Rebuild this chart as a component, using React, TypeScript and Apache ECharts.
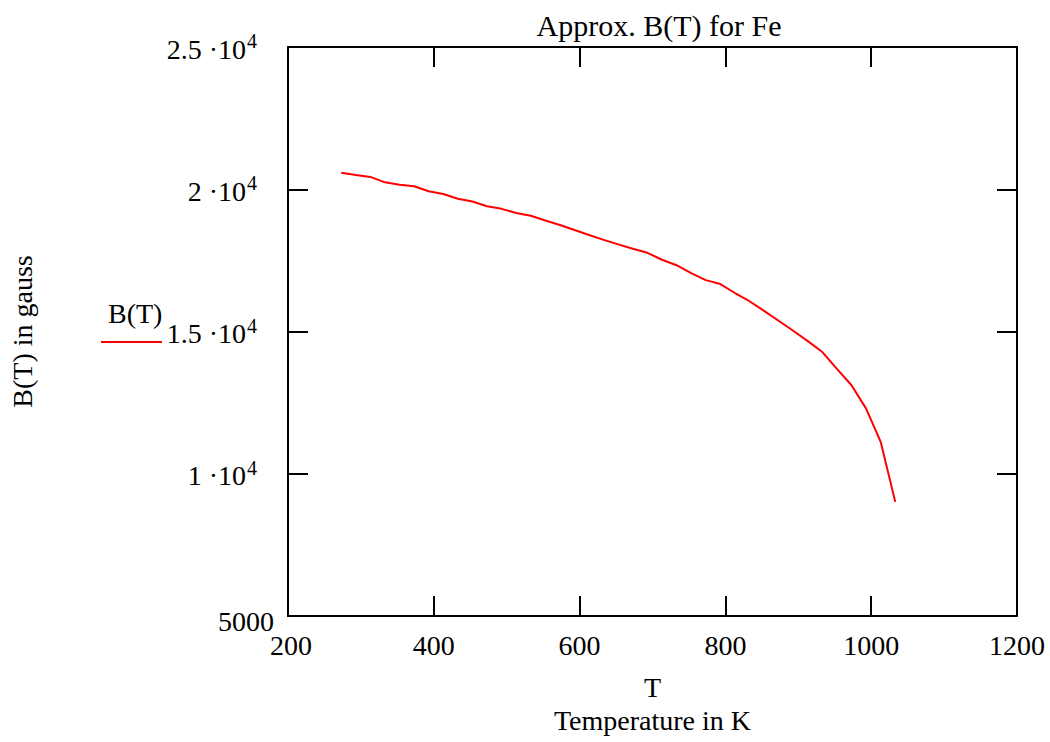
import React, { useEffect, useRef } from "react";
import * as echarts from "echarts";

const temperatures = [
  273, 293, 313, 333, 353, 373, 393, 413, 433, 453, 473, 493, 513, 533, 553, 573, 593, 613, 633, 653,
  673, 693, 713, 733, 753, 773, 793, 813, 833, 853, 873, 893, 913, 933, 953, 973, 993, 1013, 1033,
];
const bValues = [
  20581, 20504, 20434, 20243, 20162, 20103, 19929, 19831, 19667, 19569, 19405, 19311, 19168, 19067,
  18900, 18743, 18569, 18394, 18220, 18063, 17906, 17766, 17522, 17330, 17051, 16807, 16667, 16353,
  16064, 15726, 15377, 15028, 14662, 14278, 13685, 13110, 12290, 11121, 9011,
];
const xTicks = [200, 400, 600, 800, 1000, 1200];
const yTickLabels: Record<number, [string, string]> = {
  5000: ["5000", ""],
  10000: ["1 ·10", "4"],
  15000: ["1.5 ·10", "4"],
  20000: ["2 ·10", "4"],
  25000: ["2.5 ·10", "4"],
};

const FONT = "Liberation Serif";

export default function App() {
  const ref = useRef<HTMLDivElement>(null);
  useEffect(() => {
    if (!ref.current) return;
    const chart = echarts.init(ref.current, null, { renderer: "svg" });
    const axisLine = { show: true, lineStyle: { color: "#000", width: 2 } };
    const axisTick = { show: true, inside: true, length: 20, lineStyle: { color: "#000", width: 2 } };
    chart.setOption({
      animation: false,
      backgroundColor: "#fff",
      textStyle: { fontFamily: FONT, color: "#000" },
      title: {
        text: "Approx. B(T) for Fe",
        left: 654,
        top: 5,
        textAlign: "center",
        textStyle: { fontFamily: FONT, fontSize: 30, fontWeight: "normal", color: "#000" },
      },
      legend: {
        left: 96,
        top: 336,
        icon: "rect",
        itemWidth: 61,
        itemHeight: 2,
        formatter: () => "",
        selectedMode: false,
        data: [{ name: "B(T)", itemStyle: { color: "#ff0000" } }],
      },
      graphic: [
        {
          type: "text",
          left: 108,
          top: 299,
          style: { text: "B(T)", fontFamily: FONT, fontSize: 28, fill: "#000" },
        },
      ],
      grid: { left: 284, right: 33, top: 47, bottom: 122, containLabel: false },
      xAxis: [
        {
          type: "value",
          position: "bottom",
          min: xTicks[0],
          max: xTicks[xTicks.length - 1],
          interval: 200,
          axisLine,
          axisTick,
          splitLine: { show: false },
          axisLabel: {
            margin: 15,
            color: "#000",
            fontFamily: FONT,
            fontSize: 28,
            formatter: (v: number) => (v === xTicks[0] ? `{f|${v}}` : `${v}`),
            rich: { f: { fontFamily: FONT, fontSize: 28, color: "#000", padding: [0, 0, 0, 6] } },
          },
          name: "T\nTemperature in K",
          nameLocation: "middle",
          nameGap: 55,
          nameTextStyle: { fontFamily: FONT, fontSize: 28, color: "#000", lineHeight: 33 },
        },
        {
          type: "value",
          position: "top",
          min: xTicks[0],
          max: xTicks[xTicks.length - 1],
          interval: 200,
          axisLine,
          axisTick,
          axisLabel: { show: false },
          splitLine: { show: false },
        },
      ],
      yAxis: [
        {
          type: "value",
          position: "left",
          min: 5000,
          max: 25000,
          interval: 5000,
          axisLine,
          axisTick,
          splitLine: { show: false },
          axisLabel: {
            margin: 14,
            formatter: (v: number) => {
              const t = yTickLabels[v];
              if (!t) return "";
              if (!t[1]) return `{p|${t[0]}}`;
              return `{b|${t[0]}}{s|${t[1]}}`;
            },
            rich: {
              p: { fontFamily: FONT, fontSize: 28, color: "#000", padding: [10, 0, 0, 0] },
              b: { fontFamily: FONT, fontSize: 28, color: "#000", lineHeight: 32, verticalAlign: "bottom", padding: [12, 0, 0, 0] },
              s: { fontFamily: FONT, fontSize: 20, color: "#000", lineHeight: 20, verticalAlign: "top", padding: [0, 17, 0, 1] },
            },
          },
          name: "B(T) in gauss",
          nameLocation: "middle",
          nameGap: 252,
          nameRotate: 90,
          nameTextStyle: { fontFamily: FONT, fontSize: 28, color: "#000" },
        },
        {
          type: "value",
          position: "right",
          min: 5000,
          max: 25000,
          interval: 5000,
          axisLine,
          axisTick,
          axisLabel: { show: false },
          splitLine: { show: false },
        },
      ],
      series: [
        {
          name: "B(T)",
          type: "line",
          data: temperatures.map((t, i) => [t, bValues[i]]),
          showSymbol: false,
          symbol: "none",
          lineStyle: { color: "#ff0000", width: 2 },
          itemStyle: { color: "#ff0000" },
        },
      ],
    });
    return () => chart.dispose();
  }, []);
  return <div ref={ref} style={{ width: 1050, height: 742, position: "absolute", left: 0, top: 0 }} />;
}
